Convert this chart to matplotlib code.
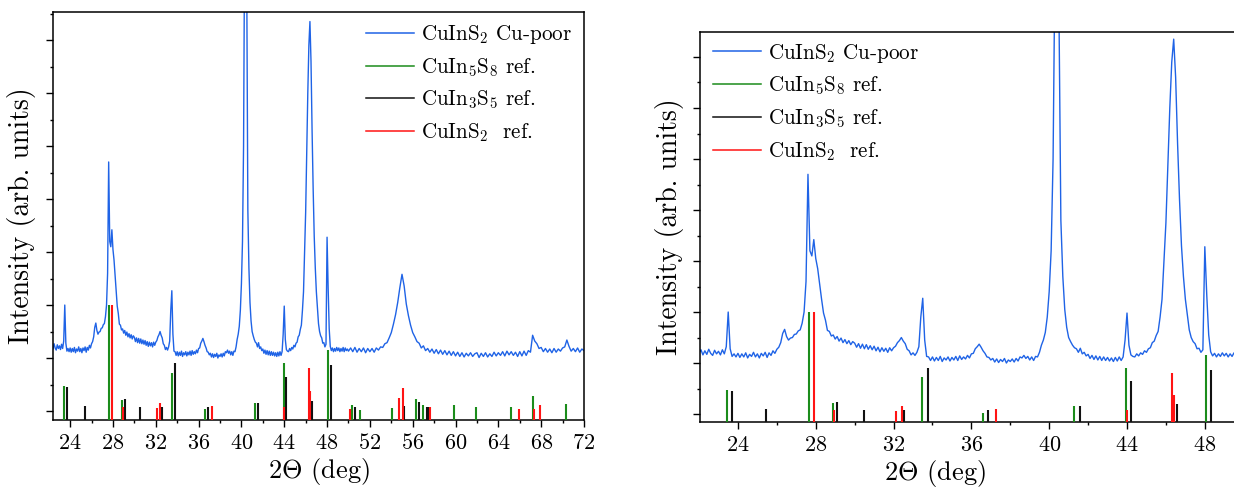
import matplotlib

matplotlib.use("Agg")
import matplotlib.pyplot as plt
import numpy as np
from matplotlib.lines import Line2D
from matplotlib.ticker import MultipleLocator, NullFormatter

plt.rcParams["font.family"] = "cmr10"
plt.rcParams["mathtext.fontset"] = "cm"
plt.rcParams["axes.formatter.use_mathtext"] = True

# measured XRD pattern (arb. units): 0.1 deg steps up to 49.9, 0.2 deg steps after
two_theta = np.round(np.concatenate([np.linspace(22.0, 49.9, 280),
                                     np.linspace(50.0, 72.0, 111)]), 2)
intensity = [
    1.20, 1.26, 1.16, 1.24, 1.17, 1.27, 1.19, 1.15, 1.25, 1.18,  # 22
    1.23, 1.16, 1.26, 1.18, 1.32, 2.00, 1.28, 1.13, 1.18, 1.12,  # 23
    1.19, 1.11, 1.18, 1.12, 1.20, 1.10, 1.17, 1.13, 1.21, 1.12,  # 24
    1.18, 1.10, 1.19, 1.14, 1.21, 1.11, 1.20, 1.15, 1.24, 1.19,  # 25
    1.27, 1.31, 1.40, 1.58, 1.66, 1.52, 1.45, 1.49, 1.50, 1.56,  # 26
    1.57, 1.63, 1.65, 1.78, 2.00, 2.60, 4.70, 3.20, 3.10, 3.42,  # 27
    3.05, 2.85, 2.55, 2.25, 1.98, 1.84, 1.64, 1.62, 1.53, 1.55,  # 28
    1.47, 1.52, 1.43, 1.49, 1.40, 1.46, 1.38, 1.44, 1.36, 1.42,  # 29
    1.39, 1.31, 1.38, 1.29, 1.37, 1.28, 1.36, 1.27, 1.34, 1.26,  # 30
    1.33, 1.24, 1.31, 1.22, 1.30, 1.23, 1.29, 1.21, 1.30, 1.24,  # 31
    1.30, 1.33, 1.40, 1.44, 1.50, 1.43, 1.38, 1.27, 1.24, 1.16,  # 32
    1.20, 1.15, 1.21, 1.32, 1.90, 2.27, 1.45, 1.13, 1.12, 1.05,  # 33
    1.12, 1.04, 1.11, 1.05, 1.13, 1.03, 1.10, 1.06, 1.12, 1.04,  # 34
    1.11, 1.06, 1.13, 1.05, 1.14, 1.07, 1.12, 1.08, 1.15, 1.10,  # 35
    1.18, 1.19, 1.28, 1.32, 1.37, 1.31, 1.24, 1.19, 1.12, 1.11,  # 36
    1.06, 1.09, 1.02, 1.08, 1.01, 1.07, 1.03, 1.09, 1.00, 1.06,  # 37
    1.03, 1.08, 1.02, 1.09, 1.04, 1.12, 1.10, 1.15, 1.09, 1.13,  # 38
    1.06, 1.12, 1.05, 1.13, 1.12, 1.21, 1.35, 1.45, 1.60, 1.90,  # 39
    2.40, 3.20, 5.00, 9.00, 12.0, 8.00, 3.80, 2.70, 2.05, 1.70,  # 40
    1.50, 1.42, 1.35, 1.30, 1.28, 1.21, 1.29, 1.18, 1.21, 1.14,  # 41
    1.17, 1.09, 1.15, 1.07, 1.14, 1.06, 1.13, 1.05, 1.12, 1.05,  # 42
    1.11, 1.04, 1.10, 1.03, 1.11, 1.04, 1.12, 1.05, 1.12, 1.45,  # 43
    1.98, 1.35, 1.16, 1.13, 1.12, 1.18, 1.14, 1.20, 1.17, 1.24,  # 44
    1.21, 1.28, 1.30, 1.40, 1.43, 1.54, 1.62, 1.90, 2.25, 3.00,  # 45
    3.75, 4.85, 6.00, 6.90, 7.35, 6.60, 5.30, 4.20, 3.30, 2.70,  # 46
    2.25, 1.95, 1.65, 1.50, 1.42, 1.38, 1.28, 1.29, 1.21, 1.26,  # 47
    3.28, 2.33, 1.55, 1.22, 1.14, 1.19, 1.12, 1.18, 1.13, 1.20,  # 48
    1.14, 1.19, 1.12, 1.18, 1.13, 1.20, 1.12, 1.19, 1.14, 1.17,  # 49
    1.13, 1.19, 1.12, 1.20, 1.11, 1.18, 1.12, 1.19, 1.10, 1.18,  # 50-51.8
    1.12, 1.18, 1.11, 1.19, 1.15, 1.21, 1.20, 1.27, 1.29, 1.38,  # 52-53.8
    1.48, 1.64, 1.82, 2.05, 2.33, 2.58, 2.36, 2.02, 1.80, 1.62,  # 54-55.8
    1.48, 1.40, 1.31, 1.28, 1.19, 1.23, 1.14, 1.18, 1.11, 1.17,  # 56-57.8
    1.09, 1.16, 1.08, 1.15, 1.07, 1.14, 1.06, 1.13, 1.05, 1.12,  # 58-59.8
    1.04, 1.11, 1.03, 1.10, 1.02, 1.09, 1.04, 1.10, 1.03, 1.08,  # 60-61.8
    1.10, 1.01, 1.09, 1.03, 1.10, 1.02, 1.08, 1.03, 1.11, 1.04,  # 62-63.8
    1.10, 1.05, 1.12, 1.04, 1.13, 1.06, 1.12, 1.05, 1.11, 1.03,  # 64-65.8
    1.12, 1.04, 1.13, 1.05, 1.14, 1.11, 1.43, 1.32, 1.27, 1.18,  # 66-67.8
    1.20, 1.12, 1.18, 1.11, 1.17, 1.10, 1.18, 1.11, 1.17, 1.13,  # 68-69.8
    1.19, 1.21, 1.34, 1.22, 1.13, 1.18, 1.12, 1.19, 1.11, 1.17,  # 70-71.8
    1.14,                                                        # 72
]

# reference stick patterns (same arb. scale, strongest line = 2)
cuin5s8_pos = [23.45, 27.65, 28.88, 33.47, 36.58, 41.28, 43.94, 48.05, 50.35,
               51.05, 54.1, 56.3, 57.0, 59.85, 61.9, 65.2, 67.2, 70.35]
cuin5s8_h = [0.47, 2.0, 0.21, 0.72, 0.03, 0.15, 0.90, 1.15, 0.11,
             0.02, 0.06, 0.23, 0.12, 0.12, 0.08, 0.08, 0.28, 0.13]

cuin3s5_pos = [23.72, 25.43, 29.1, 30.5, 32.55, 33.77, 36.87, 41.57, 44.18,
               46.55, 48.34, 50.6, 55.2, 56.6, 57.3, 57.45]
cuin3s5_h = [0.45, 0.09, 0.23, 0.07, 0.07, 0.90, 0.07, 0.15, 0.65,
             0.19, 0.87, 0.07, 0.09, 0.17, 0.08, 0.07]

cuins2_pos = [27.9, 28.95, 32.15, 32.41, 37.29, 44.0, 46.29, 46.42, 50.1,
              54.75, 55.05, 57.6, 65.95, 67.35, 67.85]
cuins2_h = [2.0, 0.07, 0.05, 0.15, 0.09, 0.07, 0.81, 0.37, 0.03,
            0.25, 0.43, 0.07, 0.03, 0.03, 0.11]

labels = ["CuInS$_2$ Cu-poor", "CuIn$_5$S$_8$ ref.", "CuIn$_3$S$_5$ ref.", "CuInS$_2$  ref."]

BLUE = "#1f63e6"
GREEN = "#1b8c1b"
BLACK = "#111111"
RED = "#ff1414"


def draw_panel(ax, xlim, ylim, xmax_tick):
    ax.plot(two_theta, intensity, color=BLUE, lw=1.0, zorder=2)
    for pos, h, c in [(cuin5s8_pos, cuin5s8_h, GREEN),
                      (cuin3s5_pos, cuin3s5_h, BLACK),
                      (cuins2_pos, cuins2_h, RED)]:
        ax.vlines(pos, ylim[0], h, colors=c, lw=1.5, zorder=3)
    ax.set_xlim(*xlim)
    ax.set_ylim(*ylim)
    ax.set_xticks(np.arange(24, xmax_tick + 1, 4))
    ax.xaxis.set_minor_locator(MultipleLocator(2))
    ax.yaxis.set_major_locator(MultipleLocator(1))
    ax.yaxis.set_minor_locator(MultipleLocator(0.5))
    ax.yaxis.set_major_formatter(NullFormatter())
    ax.tick_params(which="major", direction="out", length=5, width=1.0,
                   labelsize=16, pad=5)
    ax.tick_params(which="minor", direction="out", length=2.5, width=1.0)
    for s in ax.spines.values():
        s.set_linewidth(1.1)
    ax.set_xlabel(r"2$\Theta$ (deg)", fontsize=19)
    ax.set_ylabel("Intensity (arb. units)", fontsize=20)


def add_legend(ax, x0, y0):
    handles = [Line2D([], [], color=c, lw=1.1) for c in (BLUE, GREEN, BLACK, RED)]
    ax.legend(handles, labels, loc="upper left", bbox_to_anchor=(x0, y0),
              frameon=False, fontsize=15.2, handlelength=2.3, handletextpad=0.33,
              labelspacing=0.48, borderpad=0, borderaxespad=0)


fig = plt.figure(figsize=(12.34, 4.88), dpi=100)

ax1 = fig.add_axes([53 / 1234, 68.5 / 488, 531 / 1234, 407.5 / 488])
draw_panel(ax1, (22.4, 72), (-0.16, 7.53), 72)
ax1.xaxis.set_label_coords(0.5, -0.09)
ax1.yaxis.set_label_coords(-0.032, 0.5)
add_legend(ax1, 0.589, 0.973)

ax2 = fig.add_axes([700 / 1234, 66.3 / 488, 534 / 1234, 389.7 / 488])
draw_panel(ax2, (22.05, 49.5), (-0.15, 7.49), 48)
ax2.spines["right"].set_visible(False)
ax2.xaxis.set_label_coords(0.44, -0.093)
ax2.yaxis.set_label_coords(-0.030, 0.5)
add_legend(ax2, 0.024, 0.975)

fig.savefig("out.png", dpi=100)
